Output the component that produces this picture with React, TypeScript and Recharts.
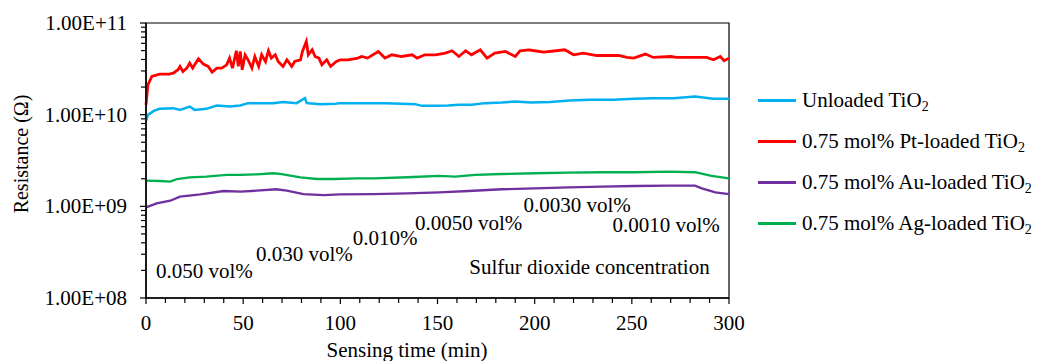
import React from "react";
import {
  LineChart,
  Line,
  XAxis,
  YAxis,
  ReferenceArea,
  ReferenceDot,
} from "recharts";

const FONT = "'Liberation Serif', 'Times New Roman', serif";

// [time (min), resistance (ohm)]
const unloaded: [number, number][] = [
  [0, 8.55e9], [1, 9.95e9], [4, 1.1e10], [7, 1.157e10], [14, 1.178e10],
  [17.5, 1.128e10], [22.5, 1.227e10], [25, 1.128e10], [31, 1.157e10],
  [36.5, 1.257e10], [43, 1.227e10], [48.5, 1.257e10], [52.5, 1.336e10],
  [58.5, 1.336e10], [65.5, 1.336e10], [70.5, 1.371e10], [77.5, 1.336e10],
  [81.8, 1.514e10], [82.7, 1.34e10], [89.5, 1.303e10], [97.5, 1.313e10],
  [100, 1.336e10], [106, 1.336e10], [114, 1.336e10], [123, 1.336e10],
  [131.5, 1.313e10], [138.5, 1.303e10], [142, 1.248e10], [149, 1.248e10],
  [155.5, 1.257e10], [161, 1.28e10], [167.5, 1.28e10], [174.5, 1.336e10],
  [183, 1.355e10], [190, 1.39e10], [198, 1.355e10], [208, 1.371e10],
  [218, 1.426e10], [228.5, 1.452e10], [240.5, 1.452e10], [251, 1.489e10],
  [261, 1.514e10], [271.5, 1.514e10], [282.5, 1.578e10], [292, 1.489e10],
  [300, 1.489e10],
];

const ptLoaded: [number, number][] = [
  [0, 1.28e10], [1, 2.12e10], [3, 2.61e10], [7, 2.77e10], [12, 2.77e10],
  [14, 2.84e10], [16.5, 3.09e10], [17.5, 3.36e10], [19, 2.96e10], [21, 3.22e10],
  [22.5, 3.66e10], [24, 3.22e10], [27, 4.07e10], [29.5, 3.56e10], [32, 3.36e10],
  [34, 2.91e10], [36.5, 3.22e10], [39, 3.22e10], [41.5, 3.5e10], [43, 4.14e10],
  [44.5, 3.22e10], [46.5, 4.98e10], [47.5, 3.36e10], [48.5, 4.89e10], [49.5, 3.09e10],
  [51, 4.5e10], [52.5, 3.97e10], [54.5, 3.22e10], [56, 4.31e10], [58, 3.36e10],
  [59.5, 4.5e10], [61.5, 3.8e10], [63, 4.98e10], [64.5, 4.14e10], [66.5, 4.5e10],
  [68, 3.8e10], [70.5, 3.36e10], [72.5, 3.97e10], [75, 3.36e10], [76.5, 3.8e10],
  [79.5, 3.97e10], [80.5, 4.89e10], [82.5, 6.3e10], [83.5, 4.5e10], [85.5, 5.1e10],
  [87, 4.31e10], [89, 4.14e10], [90.5, 3.5e10], [93, 3.97e10], [95, 3.36e10],
  [98, 3.8e10], [100, 3.97e10], [104, 3.97e10], [109, 4.14e10], [111, 4.31e10],
  [114, 4.14e10], [119.5, 4.89e10], [123, 4.14e10], [126.5, 4.5e10], [131.5, 4.31e10],
  [137, 4.5e10], [139.5, 4.14e10], [143.5, 4.5e10], [149, 4.5e10], [154, 4.7e10],
  [157.5, 4.98e10], [161, 4.31e10], [164.5, 4.98e10], [167.5, 4.5e10], [172, 5.1e10],
  [175.5, 4.14e10], [179.5, 4.7e10], [185, 4.89e10], [190, 4.31e10], [192.5, 4.98e10],
  [197, 5.1e10], [200, 4.98e10], [204.5, 4.82e10], [211, 4.98e10], [215.5, 5.1e10],
  [220, 4.5e10], [225, 4.7e10], [232, 4.42e10], [237, 4.42e10], [243, 4.42e10],
  [247.5, 4.21e10], [251, 4.14e10], [257, 4.58e10], [261, 4.21e10], [270, 4.31e10],
  [273, 4.21e10], [278.5, 4.21e10], [283.5, 4.21e10], [288.5, 4.21e10], [292, 3.97e10],
  [295.5, 4.31e10], [297.5, 3.87e10], [300, 4.14e10],
];

const auLoaded: [number, number][] = [
  [0, 9.75e8], [5.5, 1.078e9], [12.5, 1.151e9], [17.5, 1.274e9], [28, 1.352e9],
  [40, 1.469e9], [48.5, 1.445e9], [57, 1.48e9], [67, 1.535e9], [72.5, 1.48e9],
  [81, 1.362e9], [91.5, 1.328e9], [100, 1.352e9], [117, 1.362e9], [134.5, 1.387e9],
  [151, 1.422e9], [166, 1.469e9], [183, 1.535e9], [200, 1.573e9], [217.5, 1.613e9],
  [234.5, 1.637e9], [251.5, 1.667e9], [269, 1.679e9], [282.5, 1.679e9], [286, 1.573e9],
  [293, 1.422e9], [300, 1.362e9],
];

const agLoaded: [number, number][] = [
  [0, 1.905e9], [7, 1.89e9], [12.5, 1.858e9], [16, 1.987e9], [22.5, 2.075e9],
  [31, 2.107e9], [41.5, 2.199e9], [48.5, 2.199e9], [57, 2.237e9], [65.5, 2.296e9],
  [69, 2.254e9], [79.5, 2.075e9], [88, 1.987e9], [96.5, 1.987e9], [108.5, 2.023e9],
  [117, 2.023e9], [134.5, 2.075e9], [151, 2.145e9], [159, 2.107e9], [169.5, 2.199e9],
  [183, 2.254e9], [200, 2.296e9], [217.5, 2.33e9], [234.5, 2.354e9], [251.5, 2.354e9],
  [269, 2.39e9], [282.5, 2.354e9], [291, 2.145e9], [300, 2.023e9],
];

// concentration notes: [text, time, resistance at baseline]
const notes: [string, number, number][] = [
  ["0.050 vol%", 5.1, 1.66e8],
  ["0.030 vol%", 56.6, 2.52e8],
  ["0.010%", 106.4, 3.78e8],
  ["0.0050 vol%", 138.4, 5.51e8],
  ["0.0030 vol%", 194.2, 8.73e8],
  ["0.0010 vol%", 240, 5.28e8],
  ["Sulfur dioxide concentration", 166.4, 1.81e8],
];

const xTicks = Array.from({ length: 31 }, (_, i) => i * 10);
const yTicks = [1e8, 1e9, 1e10].flatMap((d) =>
  [1, 2, 3, 4, 5, 6, 7, 8, 9].map((m) => m * d)
).concat([1e11]);

const series = [
  { name: "Unloaded", color: "#00B0F0", data: unloaded, width: 2.5 },
  { name: "0.75 mol% Pt-loaded", color: "#FF0000", data: ptLoaded, width: 2.8 },
  { name: "0.75 mol% Au-loaded", color: "#7030A0", data: auLoaded, width: 2.3 },
  { name: "0.75 mol% Ag-loaded", color: "#00B050", data: agLoaded, width: 2.3 },
];

const toPoints = (arr: [number, number][]) => arr.map(([t, r]) => ({ t, r }));

const isDecade = (v: number) => Math.abs(Math.log10(v) - Math.round(Math.log10(v))) < 1e-9;

const YTick = ({ x, y, payload }: any) => {
  const v = payload.value;
  const major = isDecade(v);
  const exp = Math.round(Math.log10(v));
  return (
    <g>
      <line x1={x - (major ? 6 : 5)} x2={x} y1={y} y2={y} stroke="#000" strokeWidth={1.2} />
      {major && (
        <text x={x - 19} y={y} textAnchor="end" dominantBaseline="central"
          fontFamily={FONT} fontSize={21} fill="#000">
          {`1.00E+${exp < 10 ? "0" + exp : exp}`}
        </text>
      )}
    </g>
  );
};

const XTick = ({ x, y, payload }: any) => {
  const v = payload.value;
  const major = v % 50 === 0;
  return (
    <g>
      <line x1={x} x2={x} y1={y} y2={y + (major ? 6 : 5)} stroke="#000" strokeWidth={1.2} />
      {major && (
        <text x={x} y={y + 25} textAnchor="middle" dominantBaseline="central"
          fontFamily={FONT} fontSize={21} fill="#000">
          {v}
        </text>
      )}
    </g>
  );
};

const LegendBox = () => (
  <div style={{ position: "absolute", left: 758, top: 80, fontFamily: FONT, fontSize: 21, color: "#000" }}>
    {series.map((s) => (
      <div key={s.name} style={{ display: "flex", alignItems: "center", height: 41 }}>
        <div style={{ width: 38, height: 2.5, background: s.color, marginRight: 6 }} />
        <span style={{ whiteSpace: "nowrap", lineHeight: "21px" }}>
          {s.name} TiO<sub style={{ fontSize: 14, verticalAlign: "-4px", lineHeight: 0 }}>2</sub>
        </span>
      </div>
    ))}
  </div>
);

const NoteLabel = ({ viewBox, value }: any) => (
  <text x={viewBox.x} y={viewBox.y} fontFamily={FONT} fontSize={21} fill="#000">
    {value}
  </text>
);

export default function App() {
  return (
    <div style={{ position: "absolute", left: 0, top: 0, width: 1043, height: 361, background: "#fff" }}>
      <LineChart width={1043} height={361} margin={{ top: 23, right: 314, bottom: 0, left: 0 }}>
        <XAxis
          type="number"
          dataKey="t"
          domain={[0, 300]}
          ticks={xTicks}
          interval={0}
          tickSize={0}
          tickMargin={0}
          tick={<XTick />}
          tickLine={false}
          axisLine={{ stroke: "#000", strokeWidth: 1.5 }}
          height={63}
          label={{
            content: () => (
              <text x={407} y={357} textAnchor="middle" fontFamily={FONT} fontSize={21} fill="#000">
                Sensing time (min)
              </text>
            ),
          }}
        />
        <YAxis
          type="number"
          scale="log"
          domain={[1e8, 1e11]}
          allowDataOverflow
          ticks={yTicks}
          interval={0}
          tickSize={0}
          tickMargin={0}
          tick={<YTick />}
          tickLine={false}
          axisLine={{ stroke: "#000", strokeWidth: 1.5 }}
          width={146}
          label={{
            content: () => (
              <text x={28} y={154} textAnchor="middle" transform="rotate(-90 28 154)"
                fontFamily={FONT} fontSize={20} fill="#000">
                Resistance (Ω)
              </text>
            ),
          }}
        />
        <ReferenceArea x1={0} x2={300} y1={1e8} y2={1e11} fill="none" stroke="#000" strokeWidth={1.2} />
        {[...series].reverse().map((s) => (
          <Line
            key={s.name}
            data={toPoints(s.data)}
            dataKey="r"
            name={s.name}
            type="linear"
            stroke={s.color}
            strokeWidth={s.width}
            dot={false}
            isAnimationActive={false}
          />
        ))}
        {notes.map(([text, t, r]) => (
          <ReferenceDot key={text} x={t} y={r} r={0} stroke="none" fill="none"
            label={<NoteLabel value={text} />} />
        ))}
      </LineChart>
      <LegendBox />
    </div>
  );
}
